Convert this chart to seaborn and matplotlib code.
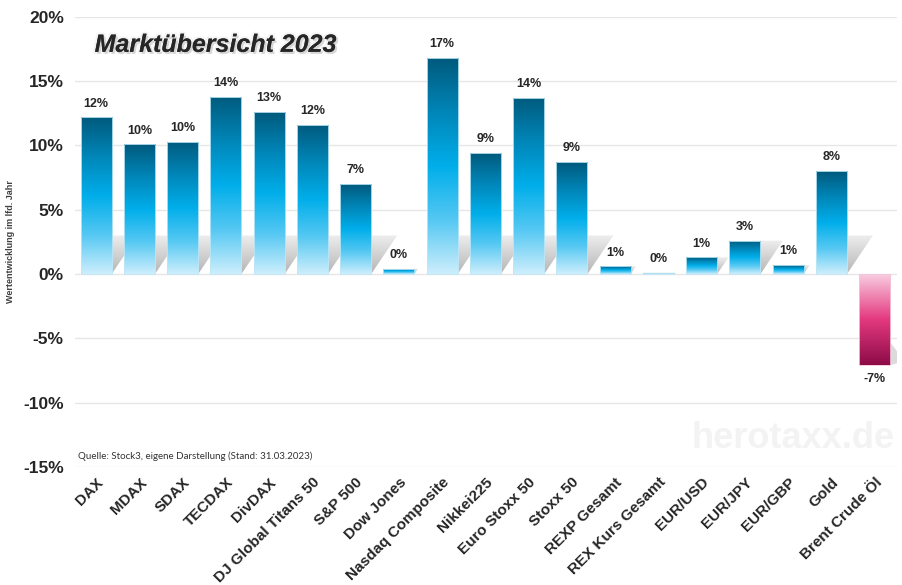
import numpy as np
import pandas as pd
from matplotlib import pyplot as plt
from matplotlib.colors import LinearSegmentedColormap
from matplotlib.patches import Polygon
import matplotlib.patheffects as pe
import seaborn as sb

categories = ['DAX', 'MDAX', 'SDAX', 'TECDAX', 'DivDAX', 'DJ Global Titans 50', 'S&P 500',
              'Dow Jones', 'Nasdaq Composite', 'Nikkei225', 'Euro Stoxx 50', 'Stoxx 50',
              'REXP Gesamt', 'REX Kurs Gesamt', 'EUR/USD', 'EUR/JPY', 'EUR/GBP', 'Gold',
              'Brent Crude Öl']
values = [12.2, 10.1, 10.3, 13.8, 12.6, 11.6, 7.0, 0.4, 16.8, 9.4, 13.7, 8.7,
          0.6, 0.1, 1.3, 2.6, 0.7, 8.0, -7.1]
yticks = [-15, -10, -5, 0, 5, 10, 15, 20]

sb.set_style('white')
plt.rcParams['font.family'] = ['Liberation Sans', 'DejaVu Sans']

df = pd.DataFrame({'name': categories, 'value': values})

fig = plt.figure(figsize=(9.03, 5.85), dpi=100)
ax = fig.add_axes([0.083, 0.202, 0.910, 0.769])

sb.barplot(data=df, x='name', y='value', ax=ax, width=0.72, color='white', zorder=3)

blue = LinearSegmentedColormap.from_list('blue', ['#cdeefc', '#55c8f3', '#00aeea', '#0086b8', '#005a7d'])
pink = LinearSegmentedColormap.from_list('pink', ['#8c0b47', '#e4397f', '#f9d0e3'])
grad = np.linspace(0, 1, 256).reshape(-1, 1)

# shadow image: grey, fading out towards the top
shade = np.zeros((64, 1, 4))
shade[..., :3] = 0.42
shade[:, 0, 3] = np.linspace(0.5, 0.12, 64)

for p, v in zip(ax.patches, values):
    x0, w = p.get_x(), p.get_width()
    y0, h = p.get_y(), p.get_height()
    lo, hi = min(y0, y0 + h), max(y0, y0 + h)
    p.set_facecolor('none')
    p.set_edgecolor('#bfe6f5' if v >= 0 else '#f3c6da')
    p.set_linewidth(0.6)
    cmap = blue if v >= 0 else pink
    im = ax.imshow(grad, cmap=cmap, aspect='auto', origin='lower',
                   extent=[x0, x0 + w, lo, hi], zorder=2)
    im.set_clip_path(p)
    if v > 0:
        sh = min(v, 3.0)
        dx = 0.6 * sh / 3.0
        poly = Polygon([(x0, 0), (x0 + w, 0), (x0 + w + dx, sh), (x0 + dx, sh)],
                       closed=True, facecolor='none', edgecolor='none', zorder=1)
        ax.add_patch(poly)
        sim = ax.imshow(shade, aspect='auto', origin='lower', interpolation='bilinear',
                        extent=[x0, x0 + w + dx, 0, sh], zorder=1)
        sim.set_clip_path(poly)
    else:
        poly = Polygon([(x0 + w, v + 1.8), (x0 + w + 0.2, v + 0.9), (x0 + w + 0.2, v + 0.2),
                        (x0 + w, v)],
                       closed=True, facecolor='#9a9a9a', edgecolor='none', alpha=0.35, zorder=1)
        ax.add_patch(poly)
    label = '{:.0f}%'.format(round(v))
    if v >= 0:
        ax.text(x0 + w / 2, v + 0.6, label, ha='center', va='bottom', fontsize=9,
                fontweight='bold', zorder=5)
    else:
        ax.text(x0 + w / 2, v - 0.6, label, ha='center', va='top', fontsize=9,
                fontweight='bold', zorder=5)

ax.set_ylim(-15, 20)
ax.set_xlim(-0.49, len(categories) - 0.49)
ax.set_yticks(yticks)
ax.set_yticklabels(['{}%'.format(t) for t in yticks], fontsize=12.5, fontweight='bold')
ax.yaxis.grid(True, color='#e6e6e6', linewidth=1, zorder=0)
ax.set_axisbelow(True)
for s in ax.spines.values():
    s.set_visible(False)
ax.tick_params(axis='both', length=0, pad=8)
ax.set_xticks(range(len(categories)))
ax.set_xticklabels(categories, rotation=45, ha='right', rotation_mode='anchor',
                   fontsize=11, fontweight='bold')
ax.tick_params(axis='x', pad=6)
ax.set_xlabel('')
ax.set_ylabel('Wertentwicklung im lfd. Jahr', fontsize=6.5, fontweight='bold', color='#404040')
ax.yaxis.set_label_coords(-0.073, 0.5)

t = ax.text(0.024, 0.938, 'Marktübersicht 2023', transform=ax.transAxes, fontsize=18,
            fontweight='bold', fontstyle='italic', va='center', ha='left', zorder=6)
t.set_path_effects([pe.withStroke(linewidth=3, foreground='#ededed', alpha=0.6),
                    pe.SimplePatchShadow(offset=(1.5, -1.5), shadow_rgbFace='#bbbbbb', alpha=0.5),
                    pe.Normal()])

ax.text(0.004, 0.012, 'Quelle: Stock3, eigene Darstellung (Stand: 31.03.2023)', transform=ax.transAxes,
        fontsize=7, color='#333333', va='bottom', ha='left', family=['Lato', 'DejaVu Sans'], zorder=6)
ax.text(0.997, 0.025, 'herotaxx.de', transform=ax.transAxes, fontsize=26, fontweight='bold',
        color='#f3f3f3', ha='right', va='bottom', zorder=0.5)

plt.savefig('out.png', dpi=100)
